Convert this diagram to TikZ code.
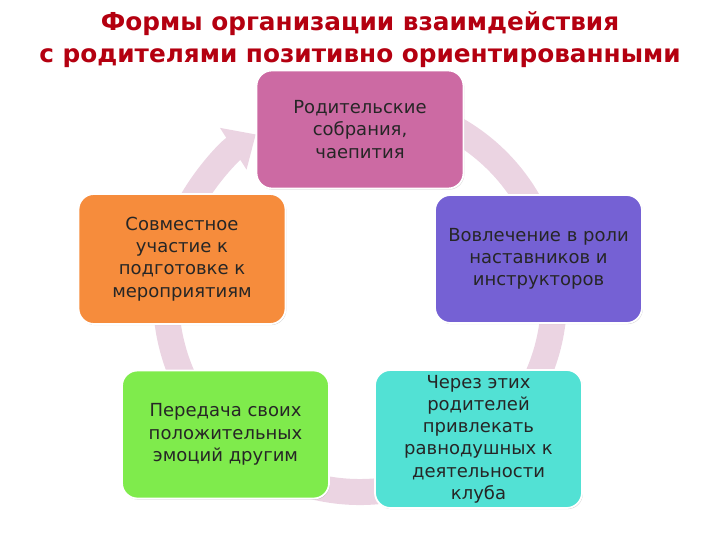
\documentclass[tikz,border=0pt]{standalone}
\usepackage{fontspec}
\setmainfont{DejaVu Sans}
\usetikzlibrary{arrows.meta,shadows}

\definecolor{titlered}{RGB}{180,0,16}
\definecolor{arcpink}{RGB}{235,212,226}
\definecolor{boxpink}{RGB}{204,106,163}
\definecolor{boxviolet}{RGB}{117,97,212}
\definecolor{boxcyan}{RGB}{82,225,212}
\definecolor{boxgreen}{RGB}{127,235,76}
\definecolor{boxorange}{RGB}{246,140,60}

\tikzset{
  stage/.style={draw=white, line width=1.3pt, rounded corners=11pt,
    drop shadow={shadow xshift=0.6pt, shadow yshift=-0.8pt, opacity=0.35},
    align=center, text=black!85, inner sep=2pt, minimum width=5.175cm,
    font=\fontsize{12.8}{15.8}\selectfont},
  cyclearc/.style={arcpink, line width=18.5pt, -{Triangle[width=34pt,length=19pt]}}
}

\begin{document}
\begin{tikzpicture}[x=0.025cm,y=0.025cm]
  \useasboundingbox (0,0) rectangle (720,540);

  % Title
  \node[text=titlered, align=center, font=\fontsize{17.6}{23}\bfseries\selectfont]
    (title) at (360,500.5) {Формы организации взаимдействия\\с родителями позитивно ориентированными};

  % Cycle arc
  \draw[cyclearc] (360,242) ++(60:194) arc[start angle=60, end angle=-237.5, radius=194];

  % Stages
  \node[stage, fill=boxpink, minimum height=2.95cm] (meetings) at (360,410.5)
    {Родительские\\собрания,\\чаепития};
  \node[stage, fill=boxviolet, minimum height=3.2cm] (mentors) at (538.5,281)
    {Вовлечение в роли\\наставников и\\инструкторов};
  \node[stage, fill=boxcyan, minimum height=3.45cm] (attract) at (478.5,101)
    {Через этих\\родителей\\привлекать\\равнодушных к\\деятельности\\клуба};
  \node[stage, fill=boxgreen, minimum height=3.2cm] (emotions) at (225.5,105.5)
    {Передача своих\\положительных\\эмоций другим};
  \node[stage, fill=boxorange, minimum height=3.25cm] (events) at (182,281)
    {Совместное\\участие к\\подготовке к\\мероприятиям};
\end{tikzpicture}
\end{document}
